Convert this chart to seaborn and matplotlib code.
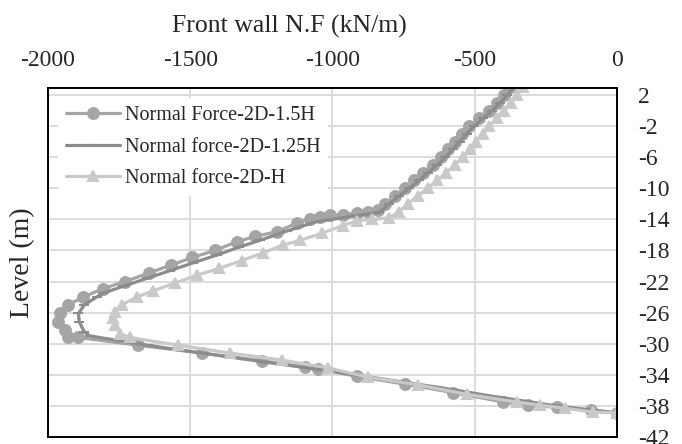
import numpy as np
import pandas as pd
import matplotlib
matplotlib.use("Agg")
import matplotlib.pyplot as plt
import seaborn as sns

# Normal force-2D-1.5H (circles)
nf_15h = [-376, -398, -422, -450, -485, -518, -545, -569, -592, -618, -648, -680,
          -712, -745, -780, -815, -840, -875, -914, -963, -1009, -1044, -1079,
          -1126, -1196, -1272, -1337, -1413, -1492, -1568, -1645, -1729, -1806,
          -1876, -1929, -1958, -1964, -1940, -1929, -1893, -1683, -1460, -1249,
          -1095, -1050, -915, -745, -575, -399, -312, -212, -89, 0]
lv_15h = [3, 2, 1, 0, -1, -2, -3, -4, -5, -6, -7, -8, -9, -10, -11, -12, -12.8,
          -13.1, -13.2, -13.4, -13.5, -13.7, -13.9, -14.5, -15.6, -16.2, -16.9,
          -18.0, -18.9, -19.9, -20.9, -22.0, -22.9, -24.0, -25.0, -26.1, -27.2,
          -28.2, -29.1, -29.2, -30.2, -31.2, -32.2, -33.0, -33.2, -34.2, -35.2,
          -36.3, -37.5, -37.9, -38.2, -38.5, -38.9]

# Normal force-2D-1.25H (line)
nf_125h = [-362, -385, -410, -438, -470, -502, -528, -552, -577, -603, -632, -663,
           -695, -730, -766, -800, -835, -930, -1056, -1160, -1255, -1330, -1407,
           -1490, -1571, -1653, -1735, -1806, -1829, -1872, -1893, -1890, -1872,
           -1852, -1650, -1440, -1230, -1030, -830, -630, -430, -230, -100, 0]
lv_125h = [3, 2, 1, 0, -1, -2, -3, -4, -5, -6, -7, -8, -9, -10, -11, -12, -13.1,
           -13.6, -14.3, -15.5, -16.7, -17.6, -18.6, -19.6, -20.6, -21.6, -22.6,
           -23.5, -24.0, -25.0, -26.1, -27.2, -28.5, -29.0, -30.2, -31.3, -32.4,
           -33.4, -34.5, -35.6, -36.8, -37.9, -38.5, -38.9]

# Normal force-2D-H (triangles)
nf_h = [-330, -350, -372, -395, -420, -448, -472, -495, -515, -540, -570, -600,
        -632, -665, -700, -735, -765, -800, -860, -915, -963, -1038, -1114, -1174,
        -1243, -1319, -1398, -1477, -1554, -1630, -1688, -1741, -1764, -1770,
        -1764, -1747, -1712, -1542, -1360, -1179, -1017, -874, -698, -528, -352,
        -271, -183, -83, 0]
lv_h = [3, 2, 1, 0, -1, -2, -3, -4, -5, -6, -7, -8, -9, -10, -11, -12, -13,
        -13.8, -14.0, -14.2, -14.8, -15.8, -16.7, -17.3, -18.3, -19.3, -20.3,
        -21.2, -22.2, -23.2, -24.0, -25.0, -25.9, -26.7, -27.6, -28.7, -29.2,
        -30.2, -31.2, -32.1, -33.1, -34.3, -35.3, -36.5, -37.5, -37.9, -38.3,
        -38.8, -38.9]

x_ticks = [-2000, -1500, -1000, -500, 0]
y_ticks = list(range(2, -43, -4))

sns.set_style("white")
plt.rcParams['font.family'] = ['Liberation Serif', 'DejaVu Serif']
plt.rcParams['axes.unicode_minus'] = False

fig = plt.figure(figsize=(6.82, 4.44), dpi=100)
ax = fig.add_axes([0.0704, 0.0158, 0.834, 0.786])

series = [
    (nf_15h, lv_15h, "Normal Force-2D-1.5H", "#a5a5a5", "o", 7.8),
    (nf_125h, lv_125h, "Normal force-2D-1.25H", "#8c8c8c", "_", 7),
    (nf_h, lv_h, "Normal force-2D-H", "#c9c9c9", "^", 7.8),
]
for xs, ys, name, col, mk, ms in series:
    sns.lineplot(x=xs, y=ys, sort=False, estimator=None, ax=ax, color=col,
                 linewidth=2.3, marker=mk, markersize=ms, markeredgecolor=col,
                 markeredgewidth=1.5, label=name)

ax.set_xlim(-2000, 0)
ax.set_ylim(-42, 2.9)
ax.set_xticks(x_ticks)
ax.set_yticks(y_ticks)
ax.xaxis.tick_top()
ax.xaxis.set_label_position("top")
ax.yaxis.tick_right()
ax.tick_params(axis="x", length=0, pad=12, labelsize=17)
ax.tick_params(axis="y", length=0, pad=15, labelsize=17)
ax.set_xlabel("Front wall N.F (kN/m)", fontsize=18.5, labelpad=13)
ax.xaxis.label.set_x(0.425)
ax.set_ylabel("Level (m)", fontsize=20, labelpad=9)
ax.yaxis.set_label_position("left")
ax.grid(True, color="#d9d9d9", linewidth=1.3)
for s in ax.spines.values():
    s.set_color("black")
    s.set_linewidth(1.4)

leg = ax.legend(loc="upper left", frameon=True, fontsize=14.5, handlelength=2.65,
                labelspacing=0.62, borderaxespad=0.5, borderpad=0.4,
                handletextpad=0.25)
leg.get_frame().set_edgecolor("none")
leg.get_frame().set_facecolor("white")
leg.get_frame().set_alpha(1)

fig.savefig("out.png", dpi=100)
